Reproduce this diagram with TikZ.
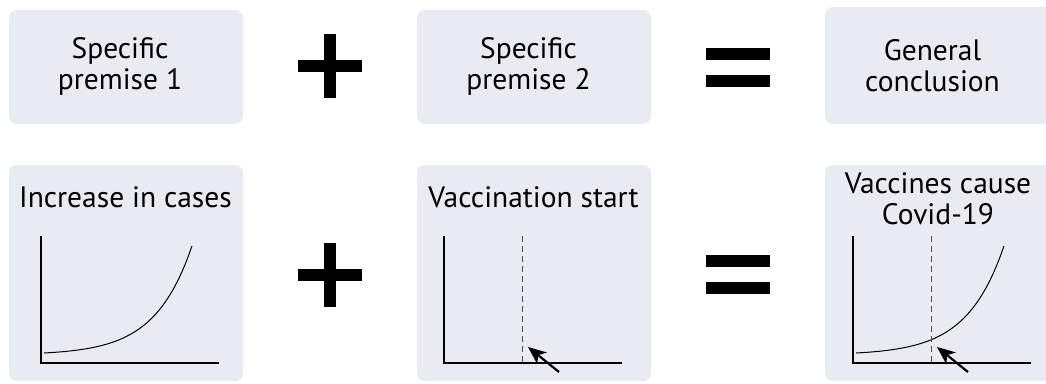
\documentclass[tikz,border=0pt]{standalone}
\usepackage{fontspec}
\setmainfont{PT Sans}
\usetikzlibrary{arrows.meta}
\definecolor{panelgray}{RGB}{232,236,242}

\begin{document}
\begin{tikzpicture}[x=1pt, y=-1pt,
		panel/.style={fill=panelgray, rounded corners=8pt},
		label/.style={font=\fontsize{29.5}{31}\selectfont, align=center, inner sep=0pt},
		axis/.style={line width=1.2pt},
		curve/.style={line width=1pt},
		marker/.style={dash pattern=on 6pt off 4pt, line width=1pt, black!70},
		pointer/.style={line width=2.2pt, -{Stealth[length=18pt, width=15pt, inset=5pt]}}]
			\useasboundingbox (0, 0) rectangle (1046, 383);
			\clip (0, 0) rectangle (1046, 383);
			% panels
			\foreach \x/\t in {9/10, 417/10, 825/7}
				\path[panel] (\x, \t) rectangle (\x+234, 124);
			\foreach \x in {9, 417, 825}
				\path[panel] (\x, 165) rectangle + (234, 216);
			% top row
			\node[label] (premA) at (120, 66) {Specific\\premise 1};
			\node[label] (premB) at (528.5, 66) {Specific\\premise 2};
			\node[label] (concl) at (932.5, 66) {General\\conclusion};
			% bottom row titles
			\node[label, anchor=base] (cases) at (125.5, 207) {Increase in cases};
			\node[label, anchor=base] (vacc) at (533.5, 207) {Vaccination start};
			\node[label] (cause) at (938, 199) {Vaccines cause\\Covid-19};
			% plus and equals
			\foreach \y in {66, 275}
			{
				\fill (298, \y-6) rectangle (362, \y+6);
				\fill (324, \y-32) rectangle (336, \y+32);
			}
			\foreach \y in {67.5, 274.5}
			{
				\fill (706, \y-19.5) rectangle (770, \y-7.5);
				\fill (706, \y+7.5) rectangle (770, \y+19.5);
			}
			% graphs
			\foreach \ox/\n in {0/a, 403/b, 812/c}
			{
				\coordinate (top\n) at (41+\ox, 236);
				\coordinate (orig\n) at (41+\ox, 363);
				\coordinate (end\n) at (219+\ox, 363);
				\draw[axis] (top\n) -- (orig\n) -- (end\n);
			}
			\foreach \ox in {0, 812}
				\draw[curve] plot[domain=0:1, samples=60] ({44+\ox+148*\x}, {353-2*(exp(4*\x)-1)});
			\foreach \ox/\n in {403/b, 812/c}
			{
				\coordinate (start\n) at (119+\ox, 236);
				\coordinate (foot\n) at (119+\ox, 363);
				\draw[marker] (start\n) -- (foot\n);
				\coordinate (tail\n) at (156+\ox, 372);
				\coordinate (tip\n) at (125+\ox, 347);
				\draw[pointer] (tail\n) -- (tip\n);
			}
		\end{tikzpicture}
\end{document}
